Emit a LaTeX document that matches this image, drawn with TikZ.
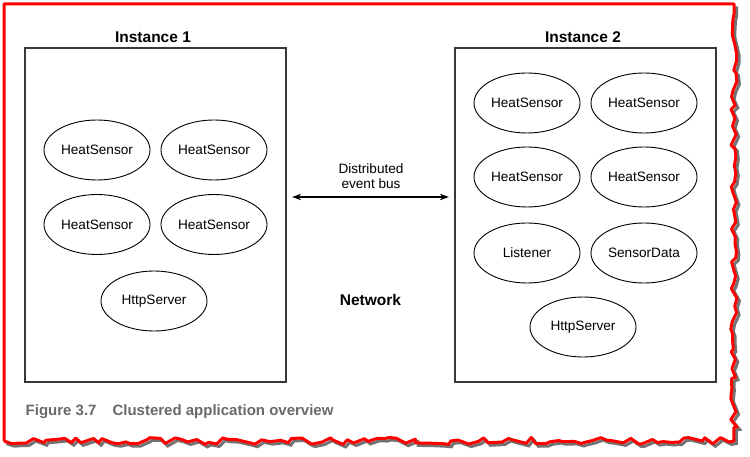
\documentclass[tikz,border=0pt]{standalone}
\usepackage{fontspec}
\setmainfont{Liberation Sans}
\usetikzlibrary{decorations.pathmorphing,arrows.meta,shapes.geometric}
\begin{document}
\begin{tikzpicture}[x=1pt,y=-1pt,
  comp/.style={draw=black, line width=0.9pt, ellipse, minimum width=106pt, minimum height=60pt, inner sep=0pt, font=\fontsize{13.6}{16}\selectfont},
  inst/.style={draw=black!78, line width=1.3pt, minimum width=261pt, minimum height=334pt, inner sep=0pt},
  ttl/.style={font=\fontsize{15.5}{18}\selectfont\bfseries, inner sep=0pt},
  busarrow/.style={{Stealth[length=9pt,width=6.5pt]}-{Stealth[length=9pt,width=6.5pt]}, line width=1.1pt, shorten <=5.5pt, shorten >=5.5pt}]
\useasboundingbox (0,0) rectangle (750,457);
% torn page border
\pgfmathsetseed{11}
\draw[black!55, line width=3pt, shift={(2.5,2.5)}] (734,4) decorate[decoration={random steps, segment length=7pt, amplitude=3.5pt}] {-- (734,441) -- (4,441)};
\pgfmathsetseed{11}
\draw[red, line width=3pt, line join=round] (4,441) -- (4,4) -- (734,4) decorate[decoration={random steps, segment length=7pt, amplitude=3.5pt}] {-- (734,441) -- (4,441)};
% instances
\node[inst] (box1) at (155.5,215) {};
\node[inst] (box2) at (585.5,215) {};
\node[ttl] (t1) at (153,37) {Instance 1};
\node[ttl] (t2) at (583,37) {Instance 2};
% instance 1 components
\node[comp] (a1) at (97,150) {HeatSensor};
\node[comp] (a2) at (214,150) {HeatSensor};
\node[comp] (a3) at (97,224.5) {HeatSensor};
\node[comp] (a4) at (214,224.5) {HeatSensor};
\node[comp] (a5) at (154,301) {HttpServer};
% instance 2 components
\node[comp] (b1) at (527,103) {HeatSensor};
\node[comp] (b2) at (644,103) {HeatSensor};
\node[comp] (b3) at (527,177) {HeatSensor};
\node[comp] (b4) at (644,177) {HeatSensor};
\node[comp] (b5) at (527,253) {Listener};
\node[comp] (b6) at (644,253) {SensorData};
\node[comp] (b7) at (583,327) {HttpServer};
% bus
\node[align=center, font=\fontsize{13.6}{15}\selectfont, inner sep=0pt] (bus) at (371,176) {Distributed\\event bus};
\coordinate (busy) at (371,197);
\draw[busarrow] (box1.east |- busy) -- (box2.west |- busy);
\node[ttl] (net) at (370.5,300) {Network};
% caption
\definecolor{capgray}{RGB}{105,105,105}
\node[anchor=west, text=capgray, font=\fontsize{15}{17}\selectfont\bfseries, inner sep=0pt] (cap) at (25.5,412) {Figure 3.7\hspace{16pt}Clustered application overview};
\end{tikzpicture}
\end{document}
